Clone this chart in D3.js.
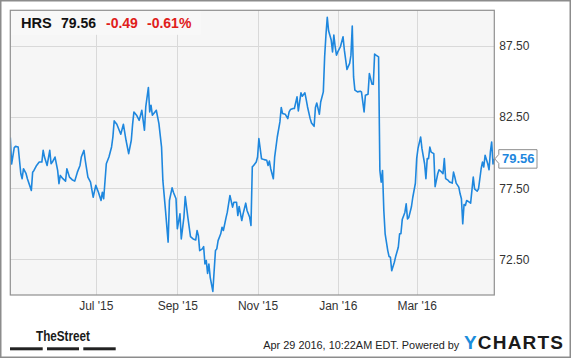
<!DOCTYPE html>
<html>
<head>
<meta charset="utf-8">
<script src="https://cdn.jsdelivr.net/npm/d3@7"></script>
<style>
  html, body { margin: 0; padding: 0; background: #ffffff; }
  svg { display: block; font-family: Arial, "Liberation Sans", sans-serif; }
</style>
</head>
<body>
<svg id="chart" width="575" height="358"></svg>
<script>
// ---- data ----
const ticker = "HRS";
const lastPrice = 79.56;
const change = "-0.49";
const changePct = "-0.61%";

const dates = [
"2015-04-27","2015-04-28","2015-04-30","2015-05-01","2015-05-03","2015-05-05","2015-05-06","2015-05-07","2015-05-09","2015-05-10",
"2015-05-13","2015-05-14","2015-05-15","2015-05-17","2015-05-19","2015-05-21","2015-05-22","2015-05-23","2015-05-25","2015-05-27",
"2015-05-28","2015-05-29","2015-05-31","2015-06-02","2015-06-03","2015-06-04","2015-06-06","2015-06-08","2015-06-09","2015-06-11",
"2015-06-13","2015-06-15","2015-06-17","2015-06-19","2015-06-20","2015-06-22","2015-06-23","2015-06-25","2015-06-27","2015-06-29",
"2015-07-01","2015-07-03","2015-07-05","2015-07-06","2015-07-07","2015-07-09","2015-07-11","2015-07-13","2015-07-14","2015-07-15",
"2015-07-17","2015-07-20","2015-07-22","2015-07-24","2015-07-26","2015-07-28","2015-07-29","2015-07-30","2015-08-01","2015-08-03",
"2015-08-05","2015-08-07","2015-08-08","2015-08-10","2015-08-11","2015-08-12","2015-08-13","2015-08-15","2015-08-16","2015-08-18",
"2015-08-20","2015-08-21","2015-08-23","2015-08-25","2015-08-26","2015-08-28","2015-08-29","2015-08-31","2015-09-01","2015-09-03",
"2015-09-04","2015-09-06","2015-09-07","2015-09-09","2015-09-11","2015-09-13","2015-09-15","2015-09-16","2015-09-17","2015-09-18",
"2015-09-20","2015-09-21","2015-09-22","2015-09-23","2015-09-24","2015-09-25","2015-09-26","2015-09-28","2015-09-29","2015-09-30",
"2015-10-01","2015-10-02","2015-10-04","2015-10-05","2015-10-06","2015-10-08","2015-10-09","2015-10-11","2015-10-13","2015-10-14",
"2015-10-16","2015-10-17","2015-10-18","2015-10-20","2015-10-21","2015-10-23","2015-10-24","2015-10-26","2015-10-27","2015-10-28",
"2015-10-29","2015-10-31","2015-11-01","2015-11-02","2015-11-04","2015-11-06","2015-11-08","2015-11-09","2015-11-10","2015-11-11",
"2015-11-13","2015-11-14","2015-11-16","2015-11-18","2015-11-19","2015-11-20","2015-11-22","2015-11-24","2015-11-25","2015-11-26",
"2015-11-28","2015-11-29","2015-12-01","2015-12-02","2015-12-04","2015-12-05","2015-12-07","2015-12-08","2015-12-09","2015-12-11",
"2015-12-12","2015-12-14","2015-12-15","2015-12-16","2015-12-18","2015-12-19","2015-12-21","2015-12-22","2015-12-23","2015-12-24",
"2015-12-25","2015-12-27","2015-12-28","2015-12-29","2015-12-30","2015-12-31","2016-01-01","2016-01-03","2016-01-05","2016-01-06",
"2016-01-08","2016-01-10","2016-01-11","2016-01-12","2016-01-13","2016-01-14","2016-01-16","2016-01-18","2016-01-19","2016-01-21",
"2016-01-22","2016-01-24","2016-01-25","2016-01-27","2016-01-28","2016-01-29","2016-01-30","2016-02-01","2016-02-02","2016-02-03",
"2016-02-04","2016-02-05","2016-02-06","2016-02-08","2016-02-09","2016-02-10","2016-02-11","2016-02-13","2016-02-14","2016-02-16",
"2016-02-17","2016-02-18","2016-02-19","2016-02-21","2016-02-22","2016-02-23","2016-02-24","2016-02-26","2016-02-27","2016-02-29",
"2016-03-01","2016-03-02","2016-03-04","2016-03-05","2016-03-07","2016-03-08","2016-03-09","2016-03-10","2016-03-11","2016-03-12",
"2016-03-14","2016-03-15","2016-03-17","2016-03-18","2016-03-20","2016-03-21","2016-03-22","2016-03-23","2016-03-25","2016-03-26",
"2016-03-28","2016-03-29","2016-03-30","2016-03-31","2016-04-02","2016-04-03","2016-04-04","2016-04-05","2016-04-06","2016-04-07",
"2016-04-08","2016-04-10","2016-04-11","2016-04-13","2016-04-14","2016-04-16","2016-04-17","2016-04-19","2016-04-20","2016-04-21",
"2016-04-22","2016-04-24","2016-04-25","2016-04-26","2016-04-27","2016-04-28","2016-04-29"
];

const prices = [
81.06,79.20,80.35,80.44,80.40,78.52,78.17,78.87,78.52,78.17,
77.35,78.63,78.75,79.10,79.34,79.34,80.16,79.69,79.10,80.16,
79.22,79.34,79.69,78.75,77.82,78.40,78.17,78.00,78.87,78.28,
78.10,78.00,78.63,79.10,79.69,80.16,79.46,78.28,77.93,76.87,
77.70,77.22,76.64,77.22,76.76,79.22,79.69,80.40,81.10,82.23,
81.99,81.29,81.99,80.87,79.93,80.87,82.00,82.86,82.63,82.27,
82.98,81.57,83.21,84.58,82.86,83.33,82.63,82.86,82.98,82.04,
80.39,78.05,75.94,73.71,76.64,77.53,77.22,76.76,74.65,75.70,
73.94,75.46,76.92,75.46,74.10,73.94,73.87,74.53,74.17,73.12,
73.24,73.40,72.18,72.42,71.52,72.18,71.24,70.25,71.71,73.12,
73.24,73.82,74.30,74.76,74.53,75.42,75.82,76.99,76.17,76.52,
76.52,75.58,76.22,75.23,75.70,76.45,75.94,75.46,74.88,79.00,
79.10,79.34,79.69,80.99,79.58,79.51,79.46,79.10,79.41,78.87,
78.17,79.69,81.10,82.16,83.17,82.75,82.70,82.39,82.86,83.03,
83.10,83.10,83.92,82.93,84.20,83.96,84.20,83.73,83.21,82.39,
82.08,81.85,83.17,83.49,82.70,83.56,84.27,86.73,88.26,89.51,
88.56,87.91,87.08,88.26,87.44,86.85,87.08,87.44,88.14,87.20,
85.84,86.27,86.85,88.89,85.32,84.39,84.27,84.32,84.27,82.86,
84.04,84.11,85.56,84.81,84.80,86.92,86.85,86.73,78.75,77.93,
78.75,75.94,74.30,73.12,72.70,72.65,71.71,72.30,72.70,73.35,
74.30,74.30,75.30,75.80,76.40,75.35,75.45,76.20,76.85,77.85,
79.60,80.30,81.10,80.28,79.22,78.17,79.58,79.58,80.39,80.04,
79.93,77.61,78.52,78.80,78.63,78.52,79.58,78.17,78.05,77.93,
77.86,78.63,78.28,77.86,77.58,77.11,76.76,75.00,76.36,76.29,
76.64,76.52,76.45,78.28,77.46,77.29,77.46,78.87,79.34,78.99,
79.81,79.22,78.80,80.04,80.75,79.20,79.56
];

const yTicks = [72.5, 77.5, 82.5, 87.5];
const xTickDates = ["2015-07-01","2015-09-01","2015-11-01","2016-01-01","2016-03-01"];
const xDomain = ["2015-04-27","2016-04-29"];
const yDomain = [70, 90];
const footerText = "Apr 29 2016, 10:22AM EDT. Powered by";

// ---- drawing ----
const parse = d3.utcParse("%Y-%m-%d");
const series = dates.map((d, i) => ({ date: parse(d), value: prices[i] }));

const svg = d3.select("#chart");
const plot = { left: 10.3, top: 10.3, right: 494.3, bottom: 295 };

const x = d3.scaleUtc().domain(xDomain.map(parse)).range([plot.left, plot.right]);
const y = d3.scaleLinear().domain(yDomain).range([plot.bottom, plot.top]);

// outer frame
svg.append("rect")
  .attr("x", 0.75).attr("y", 0.75).attr("width", 569.5).attr("height", 356.5)
  .attr("fill", "#fff").attr("stroke", "#8c8c8c").attr("stroke-width", 1.5);

// plot background
svg.append("rect")
  .attr("x", plot.left).attr("y", plot.top)
  .attr("width", plot.right - plot.left).attr("height", plot.bottom - plot.top)
  .attr("fill", "#f6f6f6");

// gridlines
svg.append("g").selectAll("line").data(yTicks).join("line")
  .attr("x1", plot.left).attr("x2", plot.right)
  .attr("y1", d => Math.round(y(d)) + 0.5).attr("y2", d => Math.round(y(d)) + 0.5)
  .attr("stroke", "#d9d9d9").attr("stroke-width", 1);
svg.append("g").selectAll("line").data(xTickDates.map(parse)).join("line")
  .attr("x1", d => Math.round(x(d)) + 0.5).attr("x2", d => Math.round(x(d)) + 0.5)
  .attr("y1", plot.top).attr("y2", plot.bottom)
  .attr("stroke", "#d9d9d9").attr("stroke-width", 1);

// header overlay box
svg.append("rect")
  .attr("x", plot.left + 0.5).attr("y", plot.top + 0.5).attr("width", 190).attr("height", 24)
  .attr("fill", "#f8f8f8");

// price line
svg.append("defs").append("clipPath").attr("id", "clip")
  .append("rect").attr("x", plot.left).attr("y", plot.top)
  .attr("width", plot.right - plot.left + 1).attr("height", plot.bottom - plot.top);
svg.append("path")
  .datum(series)
  .attr("clip-path", "url(#clip)")
  .attr("fill", "none")
  .attr("stroke", "#1e87de")
  .attr("stroke-width", 1.6)
  .attr("stroke-linejoin", "round")
  .attr("d", d3.line().x(d => x(d.date)).y(d => y(d.value)));

// plot border
svg.append("rect")
  .attr("x", plot.left).attr("y", plot.top)
  .attr("width", plot.right - plot.left).attr("height", plot.bottom - plot.top)
  .attr("fill", "none").attr("stroke", "#8f8f8f").attr("stroke-width", 1.2);

// y axis (right)
const yAxis = svg.append("g")
  .attr("transform", `translate(${plot.right},0)`)
  .call(d3.axisRight(y).tickValues(yTicks).tickFormat(d3.format(".2f")).tickSize(0).tickPadding(5));
yAxis.select(".domain").remove();
yAxis.selectAll("text").attr("font-size", 12).attr("fill", "#333").attr("font-family", "Arial, 'Liberation Sans', sans-serif");

// x axis (bottom)
const xAxis = svg.append("g")
  .attr("transform", `translate(0,${plot.bottom})`)
  .call(d3.axisBottom(x).tickValues(xTickDates.map(parse)).tickFormat(d3.utcFormat("%b '%y")).tickSize(0).tickPadding(6.5));
xAxis.select(".domain").remove();
xAxis.selectAll("text").attr("font-size", 12).attr("fill", "#333").attr("font-family", "Arial, 'Liberation Sans', sans-serif");

// last value marker
const ly = y(lastPrice);
const bx0 = plot.right + 4.5, bx1 = 537, bh = 18.5;
svg.append("path")
  .attr("d", `M${plot.right + 0.5},${ly} L${bx0},${ly - 4.5} L${bx0},${ly - bh / 2} L${bx1},${ly - bh / 2} L${bx1},${ly + bh / 2} L${bx0},${ly + bh / 2} L${bx0},${ly + 4.5} Z`)
  .attr("fill", "#fff").attr("stroke", "#8f8f8f").attr("stroke-width", 1);
svg.append("text")
  .attr("x", 502).attr("y", ly + 4.5)
  .attr("font-size", 13).attr("font-weight", "bold").attr("fill", "#1e87de")
  .text(d3.format(".2f")(lastPrice));

// header
const header = svg.append("text").attr("y", 28).attr("font-size", 14).attr("font-weight", "bold");
header.append("tspan").attr("x", 21).attr("fill", "#111").attr("font-size", 14.6).text(ticker);
header.append("tspan").attr("x", 61).attr("fill", "#111").text(d3.format(".2f")(lastPrice));
header.append("tspan").attr("x", 106).attr("fill", "#e0201b").text(change);
header.append("tspan").attr("x", 147).attr("fill", "#e0201b").text(changePct);

// footer: TheStreet logo
svg.append("text")
  .attr("x", 36).attr("y", 341.3)
  .attr("font-size", 15).attr("font-weight", "bold").attr("fill", "#1a1a1a")
  .attr("font-family", "'Liberation Sans Narrow', 'Arial Narrow', Arial, sans-serif")
  .attr("textLength", 54).attr("lengthAdjust", "spacingAndGlyphs")
  .text("TheStreet");
const barsX = [[10, 42.7], [47, 79], [83.3, 115.7]];
svg.append("g").selectAll("rect").data(barsX).join("rect")
  .attr("x", d => d[0]).attr("width", d => d[1] - d[0])
  .attr("y", 347.3).attr("height", 3).attr("fill", "#222");

// footer: timestamp + YCharts
svg.append("text")
  .attr("x", 263.3).attr("y", 348.7)
  .attr("font-size", 11).attr("fill", "#222")
  .attr("textLength", 196).attr("lengthAdjust", "spacingAndGlyphs")
  .text(footerText);
const yc = svg.append("text")
  .attr("x", 464).attr("y", 348.7)
  .attr("font-size", 19).attr("font-weight", 900)
  .attr("textLength", 99).attr("lengthAdjust", "spacing");
yc.append("tspan").attr("fill", "#1b8ddb").text("Y");
yc.append("tspan").attr("fill", "#1a1a1a").text("CHARTS");
</script>
</body>
</html>
